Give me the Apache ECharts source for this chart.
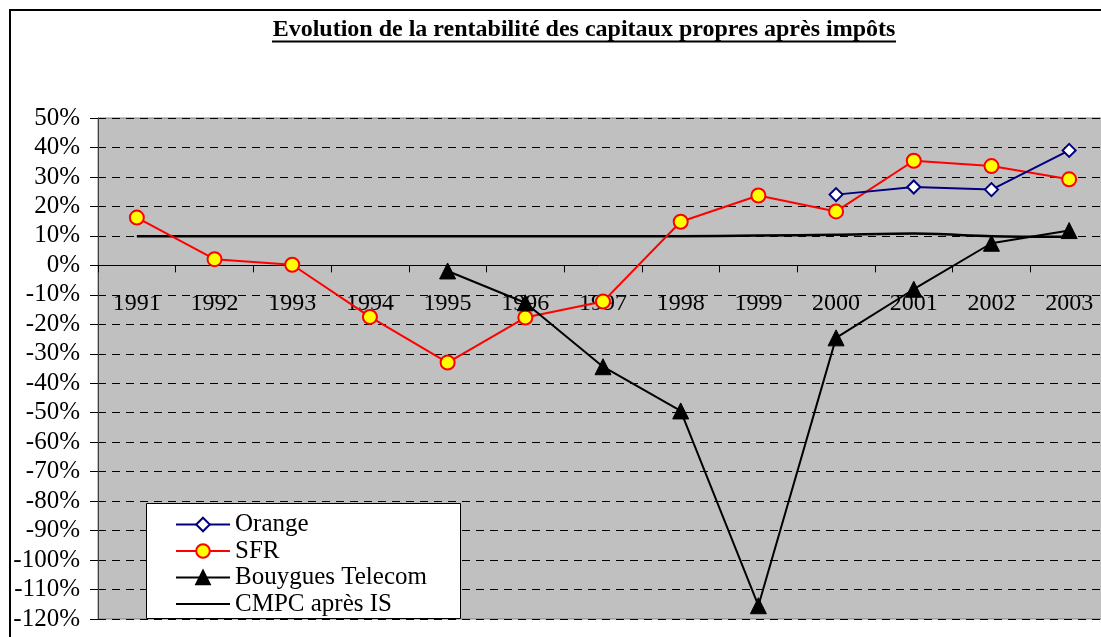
<!DOCTYPE html>
<html>
<head>
<meta charset="utf-8">
<script src="https://cdn.jsdelivr.net/npm/echarts@6/dist/echarts.min.js"></script>
<style>
  html, body { margin: 0; padding: 0; background: #fff; }
  #chart { width: 1101px; height: 637px; }
</style>
</head>
<body>
<div id="chart"></div>
<script>
// années
var years = ['1991', '1992', '1993', '1994', '1995', '1996', '1997', '1998', '1999', '2000', '2001', '2002', '2003'];
// rentabilité en %
var orange = [null, null, null, null, null, null, null, null, null, 24.0, 26.6, 25.7, 39.0];
var sfr = [16.2, 2.1, 0.2, -17.5, -33.0, -17.7, -12.3, 14.8, 23.7, 18.3, 35.5, 33.7, 29.2];
var bouygues = [null, null, null, null, -1.9, -12.7, -34.4, -49.4, -115.5, -24.6, -8.1, 7.5, 11.8];
var cmpc = [9.9, 9.9, 9.9, 9.9, 9.9, 9.9, 9.9, 9.9, 10.1, 10.4, 10.8, 9.9, 9.7];

var serif = '"Liberation Serif", "Times New Roman", serif';
var mychart = echarts.init(document.getElementById('chart'));

// zone de tracé
var gTop = 118, gHeight = 501, yMin = -120, yMax = 50;
var zeroOffset = -(gHeight * (0 - yMin) / (yMax - yMin));

var option = {
  animation: false,
  textStyle: { fontFamily: serif },
  graphic: [
    { // cadre du graphique
      type: 'rect', left: 9, top: 9, z: -10,
      shape: { width: 1110, height: 640 },
      style: { fill: '#fff', stroke: '#000', lineWidth: 2 }
    },
    {
      type: 'text', x: 584, y: 30,
      style: {
        text: 'Evolution de la rentabilité des capitaux propres après impôts',
        font: 'bold 24px ' + serif, fill: '#000',
        textAlign: 'center', textVerticalAlign: 'middle'
      }
    },
    {
      type: 'line',
      shape: { x1: 272, y1: 41.5, x2: 896, y2: 41.5 },
      style: { stroke: '#000', lineWidth: 2 }
    },
    { // boîte de légende
      type: 'rect', left: 146, top: 503, z: 5,
      shape: { width: 314, height: 115 },
      style: { fill: '#fff', stroke: '#000', lineWidth: 1 }
    }
  ],
  grid: {
    left: 98, top: gTop, width: 1010, height: gHeight,
    outerBoundsMode: 'none',
    show: true, backgroundColor: '#c0c0c0', borderColor: '#808080', borderWidth: 1
  },
  legend: {
    orient: 'vertical',
    left: 170, top: 507, z: 6,
    itemWidth: 54, itemHeight: 17, itemGap: 1.5,
    textStyle: { fontFamily: serif, fontSize: 25, color: '#000', lineHeight: 25 },
    data: [
      'Orange', 'SFR', 'Bouygues Telecom',
      { name: 'CMPC après IS', itemStyle: { color: 'rgba(0,0,0,0)', borderColor: 'rgba(0,0,0,0)', borderWidth: 0 } }
    ]
  },
  xAxis: {
    type: 'category',
    data: years,
    boundaryGap: true,
    position: 'bottom',
    offset: zeroOffset,
    axisLine: { onZero: false, lineStyle: { color: '#000', width: 1 } },
    axisTick: { show: true, inside: false, length: 7, lineStyle: { color: '#000' } },
    axisLabel: { fontFamily: serif, fontSize: 24, color: '#000', margin: 26 },
    splitLine: { show: false }
  },
  yAxis: {
    type: 'value',
    min: yMin, max: yMax, interval: 10,
    axisLine: { show: true, lineStyle: { color: '#404040', width: 1 } },
    axisTick: { show: true, length: 8, lineStyle: { color: '#000' } },
    axisLabel: { fontFamily: serif, fontSize: 25, color: '#000', margin: 18, formatter: '{value}%' },
    splitLine: { show: true, lineStyle: { color: '#000', type: [8, 6], width: 1 } }
  },
  series: [
    {
      name: 'Orange', type: 'line', data: orange,
      symbol: 'diamond', symbolSize: 13,
      lineStyle: { color: '#000080', width: 2 },
      itemStyle: { color: '#fff', borderColor: '#000080', borderWidth: 2 },
      z: 4
    },
    {
      name: 'SFR', type: 'line', data: sfr,
      symbol: 'circle', symbolSize: 14,
      lineStyle: { color: '#ff0000', width: 2 },
      itemStyle: { color: '#ffff00', borderColor: '#ff0000', borderWidth: 2 },
      z: 3
    },
    {
      name: 'Bouygues Telecom', type: 'line', data: bouygues,
      symbol: 'triangle', symbolSize: 16,
      lineStyle: { color: '#000', width: 2 },
      itemStyle: { color: '#000', borderColor: '#000', borderWidth: 1 },
      z: 3
    },
    {
      name: 'CMPC après IS', type: 'line', data: cmpc,
      symbol: 'none', smooth: 0.3,
      lineStyle: { color: '#000', width: 2.5 },
      itemStyle: { color: '#000' },
      z: 2
    }
  ]
};

mychart.setOption(option);
</script>
</body>
</html>
